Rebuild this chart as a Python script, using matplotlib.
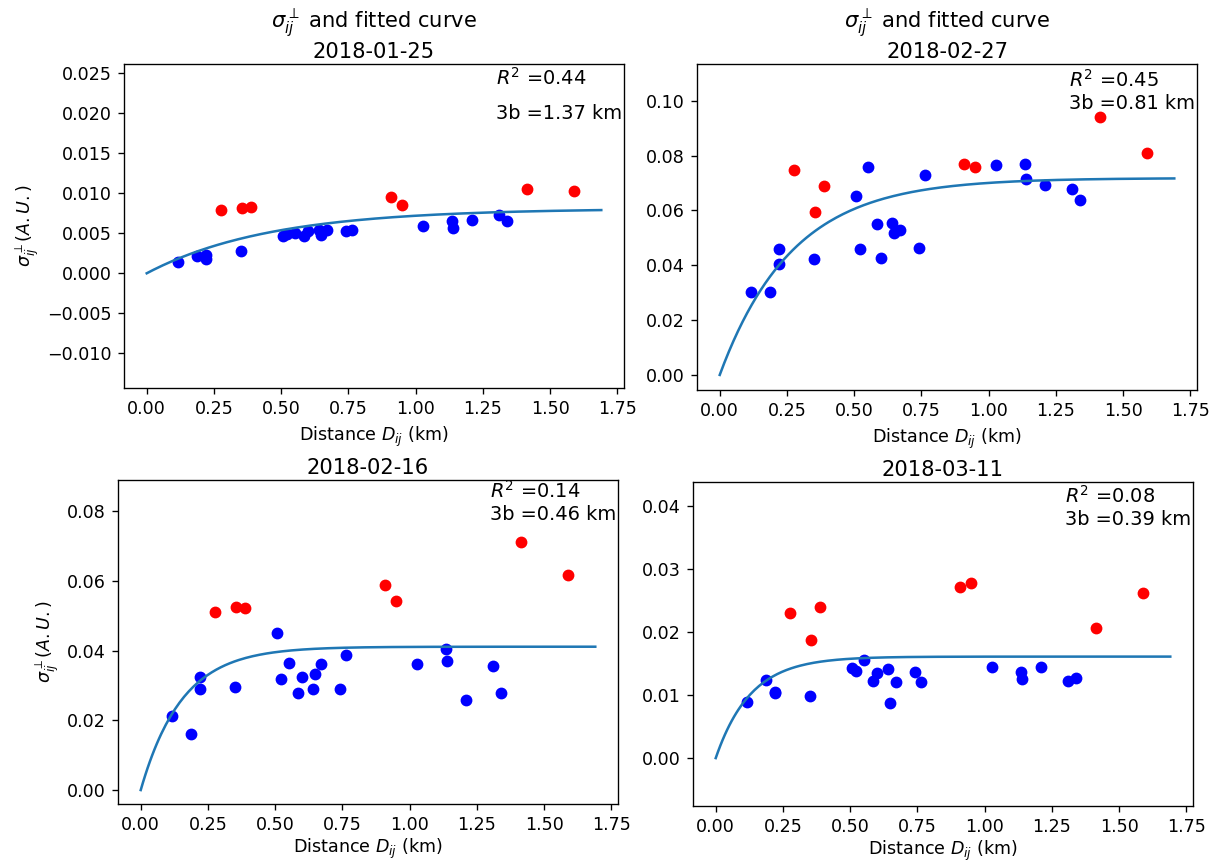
import numpy as np
import matplotlib
matplotlib.use("Agg")
import matplotlib.pyplot as plt

W, H, DPI = 1213, 863, 121.3
plt.rcParams["font.size"] = 10.4

# Shared station-pair distances (km)
x_blue = [0.118, 0.188, 0.220, 0.220, 0.352, 0.505, 0.520, 0.552, 0.583, 0.598,
          0.641, 0.648, 0.671, 0.742, 0.764, 1.026, 1.134, 1.140, 1.210, 1.309, 1.338]
x_red = [0.278, 0.356, 0.388, 0.908, 0.948, 1.412, 1.590]

dates = ["2018-01-25", "2018-02-27", "2018-02-16", "2018-03-11"]

y_blue_0125 = [0.00142, 0.00217, 0.00229, 0.00179, 0.00279, 0.00467, 0.00487, 0.00508,
               0.00470, 0.00533, 0.00541, 0.00479, 0.00541, 0.00529, 0.00541, 0.00591,
               0.00654, 0.00570, 0.00662, 0.00729, 0.00650]
y_red_0125 = [0.00791, 0.00812, 0.00825, 0.00950, 0.00858, 0.01050, 0.01030]

y_blue_0227 = [0.0304, 0.0304, 0.0459, 0.0403, 0.0424, 0.0653, 0.0461, 0.0759, 0.0549,
               0.0428, 0.0553, 0.0519, 0.0529, 0.0464, 0.0728, 0.0764, 0.0768, 0.0715,
               0.0693, 0.0677, 0.0638]
y_red_0227 = [0.0747, 0.0593, 0.0690, 0.0770, 0.0758, 0.0939, 0.0808]

y_blue_0216 = [0.0213, 0.0161, 0.0325, 0.0289, 0.0295, 0.0449, 0.0319, 0.0365, 0.0278,
               0.0325, 0.0290, 0.0333, 0.0360, 0.0289, 0.0388, 0.0360, 0.0404, 0.0371,
               0.0258, 0.0356, 0.0277]
y_red_0216 = [0.0510, 0.0525, 0.0521, 0.0587, 0.0543, 0.0710, 0.0616]

y_blue_0311 = [0.0089, 0.0124, 0.0105, 0.0104, 0.0098, 0.0143, 0.0138, 0.0156, 0.0122,
               0.0135, 0.0142, 0.0087, 0.0120, 0.0137, 0.0121, 0.0144, 0.0137, 0.0125,
               0.0144, 0.0123, 0.0127]
y_red_0311 = [0.0230, 0.0188, 0.0240, 0.0272, 0.0278, 0.0207, 0.0262]

# Fitted exponential model: sill * (1 - exp(-3 d / range3b))
sills = [0.0081, 0.0718, 0.0411, 0.0161]
range3b = [1.37, 0.81, 0.46, 0.39]
r2 = [0.44, 0.45, 0.14, 0.08]
d_max = 1.69

ylims = [(-0.01434, 0.02616), (-0.0055, 0.1134), (-0.0040, 0.0889), (-0.0076, 0.0438)]
text_y = [(0.0235, 0.01925), 0.097, 0.0774, 0.0370]

# axes boxes in pixels: left, top, right, bottom
boxes = [(124, 64, 624, 388), (697, 64, 1197, 390), (118, 480, 618, 804), (693, 482, 1193, 806)]

blues = [y_blue_0125, y_blue_0227, y_blue_0216, y_blue_0311]
reds = [y_red_0125, y_red_0227, y_red_0216, y_red_0311]

fig = plt.figure(figsize=(W / DPI, H / DPI), dpi=DPI)
fs_txt = 11.5

for i in range(4):
    l, t, r, b = boxes[i]
    ax = fig.add_axes([l / W, (H - b) / H, (r - l) / W, (b - t) / H])
    ax.scatter(x_blue, blues[i], color="b")
    ax.scatter(x_red, reds[i], color="r")
    d = np.linspace(0, d_max, 200)
    ax.plot(d, sills[i] * (1 - np.exp(-3 * d / range3b[i])), color="C0")
    ax.set_ylim(*ylims[i])
    ax.set_xticks([0, 0.25, 0.5, 0.75, 1.0, 1.25, 1.5, 1.75])
    ax.set_xlabel(r"Distance $D_{ij}$ (km)", labelpad=4 if i < 2 else 2)
    if i in (0, 2):
        ax.set_ylabel(r"$\sigma_{ij}^{\perp} (A.U.)$")
    if i < 2:
        ax.set_title(r"$\sigma_{ij}^{\perp}$ and fitted curve" + "\n" + dates[i], pad=3.5)
    else:
        ax.set_title(dates[i], pad=3.5)
    if i == 0:
        ax.text(1.3, text_y[0][0], r"$R^2$ =%.2f" % r2[i], fontsize=fs_txt)
        ax.text(1.3, text_y[0][1], "3b =%.2f km" % range3b[i], fontsize=fs_txt)
    else:
        ax.text(1.3, text_y[i], r"$R^2$ =%.2f" % r2[i] + "\n" + "3b =%.2f km" % range3b[i],
                fontsize=fs_txt)

fig.savefig("out.png", dpi=DPI)
